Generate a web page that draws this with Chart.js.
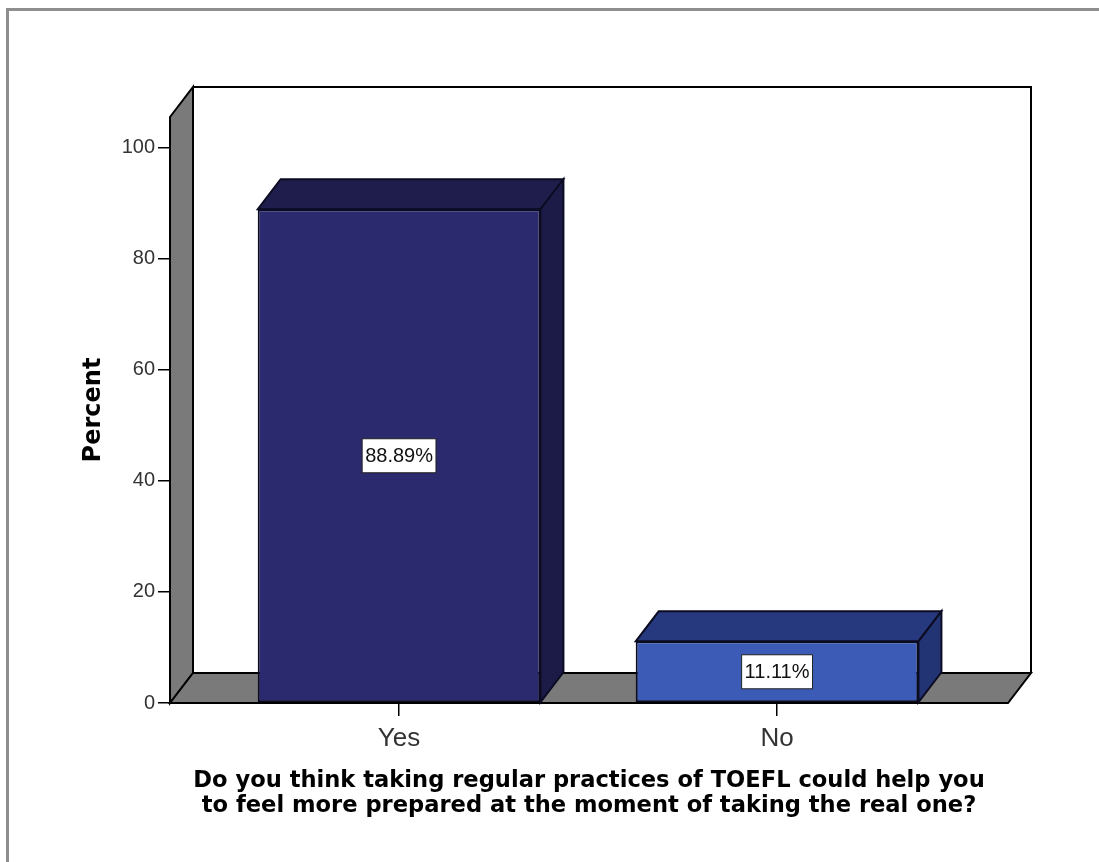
<!DOCTYPE html>
<html>
<head>
<meta charset="utf-8">
<script src="https://cdn.jsdelivr.net/npm/chart.js"></script>
<style>
  html, body { margin: 0; padding: 0; background: #fff; }
  #wrap { position: relative; width: 1099px; height: 862px; overflow: hidden; }
  #frame { position: absolute; left: 6px; top: 8px; right: -10px; bottom: -10px;
           border-top: 3px solid #8e8e8e; border-left: 3px solid #8e8e8e; }
  canvas { position: absolute; left: 0; top: 0; }
</style>
</head>
<body>
<div id="wrap">
  <div id="frame"></div>
  <canvas id="chart" width="1099" height="862"></canvas>
</div>
<script>
const categories = ["Yes", "No"];
const percents = [88.89, 11.11];
const yTicks = [0, 20, 40, 60, 80, 100];
const xTitle = [
  "Do you think taking regular practices of TOEFL could help you",
  "to feel more prepared at the moment of taking the real one?"
];
const yTitle = "Percent";

const frontColors = ["#2b2a6e", "#3b5bb6"];
const topColors = ["#1e1d4c", "#27397e"];
const sideColors = ["#1c1b48", "#233474"];
const wallColor = "#7a7a7a";

// depth of the fake 3D box (SPSS style)
const DX = 23, DY = -30;

function poly(ctx, pts, fill) {
  ctx.beginPath();
  ctx.moveTo(pts[0][0], pts[0][1]);
  for (let i = 1; i < pts.length; i++) ctx.lineTo(pts[i][0], pts[i][1]);
  ctx.closePath();
  ctx.fillStyle = fill;
  ctx.fill();
  ctx.stroke();
}

const box3d = {
  id: "box3d",
  beforeDatasetsDraw(chart) {
    const { ctx, chartArea: { left, right, top, bottom } } = chart;
    ctx.save();
    ctx.lineWidth = 2;
    ctx.strokeStyle = "#000";
    // back wall
    ctx.fillStyle = "#fff";
    ctx.fillRect(left + DX, top + DY, right - left, bottom - top);
    ctx.beginPath();
    ctx.moveTo(left + DX, top + DY);
    ctx.lineTo(right + DX, top + DY);
    ctx.lineTo(right + DX, bottom + DY);
    ctx.stroke();
    // left wall and floor
    poly(ctx, [[left, bottom], [left, top], [left + DX, top + DY], [left + DX, bottom + DY]], wallColor);
    poly(ctx, [[left, bottom], [left + DX, bottom + DY], [right + DX, bottom + DY], [right, bottom]], wallColor);
    ctx.restore();
  },
  afterDatasetsDraw(chart) {
    const { ctx } = chart;
    const meta = chart.getDatasetMeta(0);
    ctx.save();
    ctx.lineWidth = 2;
    ctx.strokeStyle = "#0b0b22";
    meta.data.forEach((bar, i) => {
      const half = bar.width / 2;
      const l = bar.x - half, r = bar.x + half, t = bar.y, b = bar.base;
      poly(ctx, [[l, t], [l + DX, t + DY], [r + DX, t + DY], [r, t]], topColors[i]);
      poly(ctx, [[r, t], [r + DX, t + DY], [r + DX, b + DY], [r, b]], sideColors[i]);

      // value label in a white box
      const txt = percents[i].toFixed(2) + "%";
      ctx.font = "20px 'Liberation Sans', Arial, sans-serif";
      const w = ctx.measureText(txt).width + 6, h = 34;
      const cy = (t + b) / 2;
      ctx.fillStyle = "#fff";
      ctx.fillRect(bar.x - w / 2, cy - h / 2, w, h);
      ctx.lineWidth = 1;
      ctx.strokeStyle = "#222";
      ctx.strokeRect(bar.x - w / 2, cy - h / 2, w, h);
      ctx.fillStyle = "#111";
      ctx.textAlign = "center";
      ctx.textBaseline = "middle";
      ctx.fillText(txt, bar.x, cy + 1);
      ctx.lineWidth = 2;
      ctx.strokeStyle = "#0b0b22";
    });
    ctx.restore();
  }
};

new Chart(document.getElementById("chart"), {
  type: "bar",
  data: {
    datasets: [{
      data: percents.map((v, i) => ({ x: i, y: v })),
      backgroundColor: frontColors,
      borderColor: "#0b0b22",
      borderWidth: 2,
      borderSkipped: false,
      barPercentage: 0.748,
      categoryPercentage: 1
    }]
  },
  options: {
    responsive: false,
    animation: false,
    devicePixelRatio: 1,
    layout: { padding: { left: 70, top: 117, right: 91, bottom: 43 } },
    plugins: { legend: { display: false }, tooltip: { enabled: false } },
    scales: {
      x: {
        type: "linear",
        offset: false,
        min: -0.606,
        max: 1.611,
        afterBuildTicks: s => { s.ticks = categories.map((c, i) => ({ value: i })); },
        afterFit: s => { s.height = 116; },
        ticks: {
          callback: v => categories[v],
          font: { family: "'Liberation Sans', Arial, sans-serif", size: 26 },
          color: "#333",
          padding: 7,
          maxRotation: 0,
          autoSkip: false
        },
        grid: { display: true, offset: false, drawOnChartArea: false, tickLength: 13, color: "#000", lineWidth: 1.5 },
        border: { display: false },
        title: {
          display: true,
          text: xTitle,
          color: "#000",
          font: { family: "'DejaVu Sans', sans-serif", weight: "bold", size: 22.6, lineHeight: 1.11 },
          padding: { top: 0, bottom: 0 }
        }
      },
      y: {
        min: 0,
        max: 105.5,
        afterBuildTicks: s => { s.ticks = yTicks.map(v => ({ value: v })); },
        afterFit: s => { s.width = 100; },
        ticks: {
          font: { family: "'Liberation Sans', Arial, sans-serif", size: 20 },
          color: "#333",
          padding: 3
        },
        grid: { display: true, drawOnChartArea: false, tickLength: 12, color: "#000", lineWidth: 1.5 },
        border: { display: false },
        title: {
          display: true,
          text: yTitle,
          color: "#000",
          font: { family: "'DejaVu Sans', sans-serif", weight: "bold", size: 24 },
          padding: { top: 9, bottom: 0 }
        }
      }
    }
  },
  plugins: [box3d]
});
</script>
</body>
</html>
